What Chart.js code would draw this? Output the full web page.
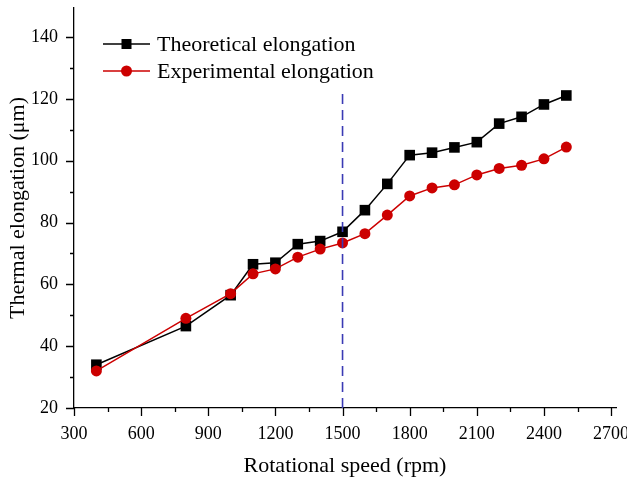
<!DOCTYPE html>
<html>
<head>
<meta charset="utf-8">
<script src="https://cdn.jsdelivr.net/npm/chart.js@4.4.0/dist/chart.umd.min.js"></script>
<style>
  html, body { margin: 0; padding: 0; background: #fff; }
  #wrap { width: 627px; height: 479px; position: relative; }
</style>
</head>
<body>
<div id="wrap"><canvas id="myChart" width="627" height="479"></canvas></div>
<script>
// data
const speeds = [400, 800, 1000, 1100, 1200, 1300, 1400, 1500, 1600, 1700, 1800, 1900, 2000, 2100, 2200, 2300, 2400, 2500];
const theoretical = [34, 46.5, 56.5, 66.5, 67, 73, 74, 77, 84, 92.5, 101.8, 102.6, 104.3, 106, 112, 114.2, 118.2, 121.1];
const experimental = [32, 49, 57, 63.4, 65, 68.8, 71.4, 73.4, 76.4, 82.4, 88.6, 91.2, 92.2, 95.4, 97.5, 98.5, 100.6, 104.4];
const refLineX = [1500, 1500];
const refLineY = [20, 122.2];
const xTicks = [300, 600, 900, 1200, 1500, 1800, 2100, 2400, 2700];
const yTicks = [20, 40, 60, 80, 100, 120, 140];

const FONT = "'Liberation Serif', 'Times New Roman', serif";
const RED = '#cc0000';

const toPoints = (xs, ys) => xs.map((x, i) => ({ x: x, y: ys[i] }));

const noPad = (s) => { s.paddingLeft = 0; s.paddingRight = 0; s.paddingTop = 0; s.paddingBottom = 0; };

// outward major + minor tick marks, drawn through the scales
const tickMarks = {
  id: 'tickMarks',
  afterDraw(chart) {
    const ctx = chart.ctx;
    const xs = chart.scales.x, ys = chart.scales.y;
    const area = chart.chartArea;
    ctx.save();
    ctx.strokeStyle = '#000';
    ctx.lineWidth = 1.3;
    ctx.beginPath();
    xTicks.forEach((v, i) => {
      const px = Math.round(xs.getPixelForValue(v)) + 0.5;
      ctx.moveTo(px, area.bottom); ctx.lineTo(px, area.bottom + 8);
      if (i < xTicks.length - 1) {
        const mx = Math.round(xs.getPixelForValue((v + xTicks[i + 1]) / 2)) + 0.5;
        ctx.moveTo(mx, area.bottom); ctx.lineTo(mx, area.bottom + 4);
      }
    });
    yTicks.forEach((v, i) => {
      const py = Math.round(ys.getPixelForValue(v)) + 0.5;
      ctx.moveTo(area.left, py); ctx.lineTo(area.left - 8, py);
      if (i < yTicks.length - 1) {
        const my = Math.round(ys.getPixelForValue((v + yTicks[i + 1]) / 2)) + 0.5;
        ctx.moveTo(area.left, my); ctx.lineTo(area.left - 4, my);
      }
    });
    ctx.stroke();

    // legend inside plot, top-left
    const items = [
      { label: 'Theoretical elongation', color: '#000', style: 'rect' },
      { label: 'Experimental elongation', color: RED, style: 'circle' }
    ];
    const lx = area.left + 29, ly = area.top + 36;
    items.forEach((it, i) => {
      const y = ly + i * 27;
      ctx.strokeStyle = it.color;
      ctx.lineWidth = 1.5;
      ctx.beginPath();
      ctx.moveTo(lx, y); ctx.lineTo(lx + 47, y);
      ctx.stroke();
      ctx.fillStyle = it.color;
      if (it.style === 'rect') {
        ctx.fillRect(lx + 23.5 - 5, y - 5, 10, 10);
      } else {
        ctx.beginPath();
        ctx.arc(lx + 23.5, y, 5.5, 0, Math.PI * 2);
        ctx.fill();
      }
      ctx.fillStyle = '#000';
      ctx.font = '22px ' + FONT;
      ctx.textBaseline = 'middle';
      ctx.textAlign = 'left';
      ctx.fillText(it.label, lx + 54, y + 1);
    });
    ctx.restore();
  }
};

const ctx = document.getElementById('myChart');
new Chart(ctx, {
  type: 'line',
  data: {
    datasets: [
      {
        label: 'ref',
        data: toPoints(refLineX, refLineY),
        borderColor: '#3a3ab4',
        borderWidth: 1.6,
        borderDash: [10, 6],
        pointRadius: 0
      },
      {
        label: 'Experimental elongation',
        data: toPoints(speeds, experimental),
        borderColor: RED,
        backgroundColor: RED,
        borderWidth: 1.5,
        pointStyle: 'circle',
        pointRadius: 5.5,
        pointBorderWidth: 0,
        tension: 0
      },
      {
        label: 'Theoretical elongation',
        data: toPoints(speeds, theoretical),
        borderColor: '#000',
        backgroundColor: '#000',
        borderWidth: 1.5,
        pointStyle: 'rect',
        pointRadius: 7.5,
        pointBorderWidth: 0,
        tension: 0
      }
    ]
  },
  options: {
    responsive: false,
    animation: false,
    layout: { padding: { top: 8, right: 11, left: 0, bottom: 0 } },
    plugins: { legend: { display: false }, tooltip: { enabled: false } },
    scales: {
      x: {
        type: 'linear',
        min: 300,
        max: 2722,
        afterBuildTicks: (s) => { s.ticks = xTicks.map(v => ({ value: v })); },
        afterFit: (s) => { s.height = 71; noPad(s); },
        grid: { display: false, drawTicks: false },
        border: { display: true, color: '#000', width: 1.3 },
        ticks: { color: '#000', padding: 15, maxRotation: 0, autoSkip: false, callback: (v) => String(v), font: { family: FONT, size: 18 } },
        title: { display: true, text: 'Rotational speed (rpm)', color: '#000', padding: { top: 0, bottom: 0 }, font: { family: FONT, size: 22 } }
      },
      y: {
        min: 20,
        max: 149.4,
        afterBuildTicks: (s) => { s.ticks = yTicks.map(v => ({ value: v })); },
        afterFit: (s) => { s.width = 74; noPad(s); },
        grid: { display: false, drawTicks: false },
        border: { display: true, color: '#000', width: 1.3 },
        ticks: { color: '#000', padding: 16, callback: (v) => String(v), font: { family: FONT, size: 18 } },
        title: { display: true, text: 'Thermal elongation (\u03bcm)', color: '#000', padding: { top: 5, bottom: 0 }, font: { family: FONT, size: 22 } }
      }
    }
  },
  plugins: [tickMarks]
});
</script>
</body>
</html>
